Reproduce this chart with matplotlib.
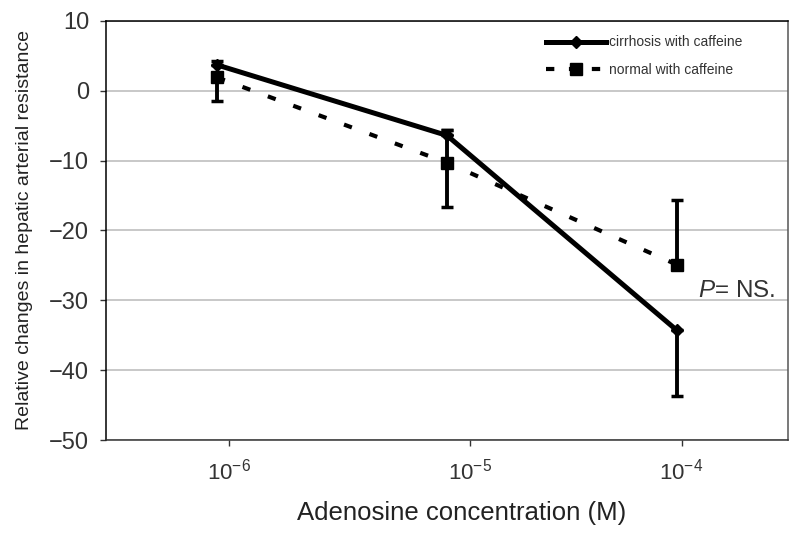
import numpy as np
import matplotlib
matplotlib.use("Agg")
import matplotlib.pyplot as plt
from matplotlib.lines import Line2D

plt.rcParams['font.family'] = ['Liberation Sans', 'DejaVu Sans']
plt.rcParams['mathtext.fontset'] = 'custom'
plt.rcParams['mathtext.rm'] = 'Liberation Sans'
plt.rcParams['mathtext.it'] = 'Liberation Sans:italic'

# --- data ---
positions = [0, 1, 2]                      # category slots of the points
tick_pos = [0.05, 1.10, 2.02]              # where the tick labels sit
tick_labels = [r'$10^{-6}$', r'$10^{-5}$', r'$10^{-4}$']

cirrhosis = [3.7, -6.4, -34.3]
cirr_err_low = [0.0, 0.0, 9.4]
cirr_err_high = [0.6, 0.8, 0.0]

normal = [1.9, -10.3, -24.9]
norm_err_low = [3.3, 6.3, 0.0]
norm_err_high = [0.0, 4.7, 9.2]

y_ticks = [10, 0, -10, -20, -30, -40, -50]

DOTS = (0, (2.0, 4.5))

fig = plt.figure(figsize=(8, 5.36), dpi=100)
ax = fig.add_axes([0.1325, 0.179, 0.8525, 0.782])

# normal with caffeine (dotted, squares)
ax.errorbar(positions, normal, yerr=[norm_err_low, norm_err_high],
            color='black', lw=3.0, ls=DOTS, dash_capstyle='butt',
            marker='s', ms=9, mec='black', mfc='black',
            ecolor='black', elinewidth=2.8, capsize=4.5, capthick=2.5, zorder=3)

# cirrhosis with caffeine (solid, diamonds)
ax.errorbar(positions, cirrhosis, yerr=[cirr_err_low, cirr_err_high],
            color='black', lw=3.6, marker='D', ms=6,
            ecolor='black', elinewidth=2.8, capsize=4.5, capthick=2.5, zorder=4)

ax.set_xlim(-0.483, 2.483)
ax.set_ylim(-50, 10)
ax.set_yticks(y_ticks)
ax.set_yticklabels([str(v) if v >= 0 else '\u2212' + str(-v) for v in y_ticks])
ax.set_xticks(tick_pos)
ax.set_xticklabels(tick_labels)

ax.yaxis.grid(True, color='#c4c4c4', lw=1.3)
ax.set_axisbelow(True)

ax.tick_params(axis='y', labelsize=17, length=4, width=1, pad=8, colors='#333333')
ax.tick_params(axis='x', labelsize=16, length=4, width=1, pad=9, colors='#333333')
for side, col in [('left', 'black'), ('top', 'black'), ('bottom', '#333333'), ('right', '#555555')]:
    ax.spines[side].set_color(col)
    ax.spines[side].set_linewidth(1.1)

ax.set_xlabel('Adenosine concentration (M)', fontsize=18.5, labelpad=10, color='#222222')
ax.xaxis.set_label_coords(0.522, -0.145)
ax.set_ylabel('Relative changes in hepatic arterial resistance', fontsize=14,
              labelpad=12, color='#222222')

ax.text(2.09, -28.7, r'$P$= NS.', fontsize=17.5, va='center', ha='left', color='#333333')

handles = [
    Line2D([], [], color='black', lw=3.6, marker='D', ms=6),
    Line2D([], [], color='black', lw=3.0, ls=(0, (2.0, 3.5)), dash_capstyle='butt',
           marker='s', ms=9),
]
labels = ['cirrhosis with caffeine', 'normal with caffeine']
leg = ax.legend(handles, labels, loc='upper left',
                bbox_to_anchor=(0.635, 0.982), frameon=False, fontsize=10,
                handlelength=4.3, handletextpad=0.2, labelspacing=0.95,
                borderpad=0.0)
for t in leg.get_texts():
    t.set_color('#333333')

fig.savefig('out.png', dpi=100)
